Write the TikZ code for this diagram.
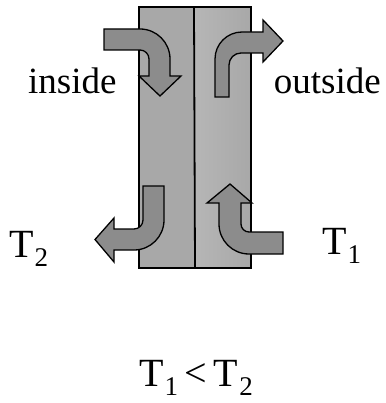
\documentclass[tikz,border=0pt]{standalone}
\usepackage{fontspec}
\setmainfont{Liberation Serif}
\newcommand{\mysubT}[1]{T\kern1pt\lower9pt\hbox{\fontsize{27}{30}\selectfont #1}}
\begin{document}
\begin{tikzpicture}[x=1pt,y=-1pt,
  wallline/.style={draw=black,line width=1.8pt},
  flowarrow/.style={draw=black,line width=1.3pt,fill=arrowgray,line join=miter},
  wordlabel/.style={inner sep=0pt,font=\fontsize{37}{40}\selectfont},
  tlabel/.style={inner sep=0pt,font=\fontsize{40}{44}\selectfont}]
\definecolor{wallgray}{RGB}{182,182,182}
\definecolor{walllight}{RGB}{200,200,200}
\definecolor{walldark}{RGB}{168,168,168}
\definecolor{arrowgray}{RGB}{140,140,140}
\useasboundingbox (0,0) rectangle (385,403);
% wall panels
\shade[left color=walldark, middle color=walllight, right color=walldark] (139,7) rectangle (194.5,268);
\shade[left color=wallgray, middle color=walllight, right color=walldark] (194.5,7) rectangle (251,268);
\draw[wallline] (139,7) rectangle (251,268);
\draw[line width=1.8pt] (194,7) -- (195,268);
% top-left arrow (inside, down)
\draw[flowarrow] (104,29) -- (140,29) .. controls (156.57,29) and (170,42.43) .. (170,59)
  -- (170,76) -- (181,76) -- (160,96) -- (139,76) -- (149,76) -- (149,59)
  .. controls (149,54.03) and (144.97,50) .. (140,50) -- (104,50) -- cycle;
% top-right arrow (outside, up then right)
\draw[flowarrow] (215,97) -- (215,59) .. controls (215,44.09) and (227.09,32) .. (242,32)
  -- (263,32) -- (263,20) -- (283,41) -- (263,62) -- (263,53) -- (241,53)
  .. controls (234.37,53) and (229,58.37) .. (229,65) -- (229,97) -- cycle;
% bottom-left arrow (down then left)
\draw[flowarrow] (143,186) -- (164,186) -- (164,220) .. controls (164,236.57) and (150.57,250) .. (134,250)
  -- (114,250) -- (114,262) -- (95,239.5) -- (114,218) -- (114,229) -- (134,229)
  .. controls (138.97,229) and (143,224.97) .. (143,220) -- cycle;
% bottom-right arrow (left then up)
\draw[flowarrow] (283,232) -- (283,254) -- (249,254) .. controls (232.43,254) and (219,240.57) .. (219,224)
  -- (219,203) -- (207,203) -- (230,184) -- (252,203) -- (241,203) -- (241,224)
  .. controls (241,228.42) and (244.58,232) .. (249,232) -- cycle;
% labels
\node[wordlabel,anchor=base west] (inside) at (28,94) {inside};
\node[wordlabel,anchor=base east] (outside) at (381,94) {outside};
\node[tlabel,anchor=base west] (t2) at (9,257) {\mysubT{2}};
\node[tlabel,anchor=base west] (t1) at (322,254) {\mysubT{1}};
\node[tlabel,anchor=base] (rel) at (196,386) {\mysubT{1}\,<\,\mysubT{2}};
\end{tikzpicture}
\end{document}
